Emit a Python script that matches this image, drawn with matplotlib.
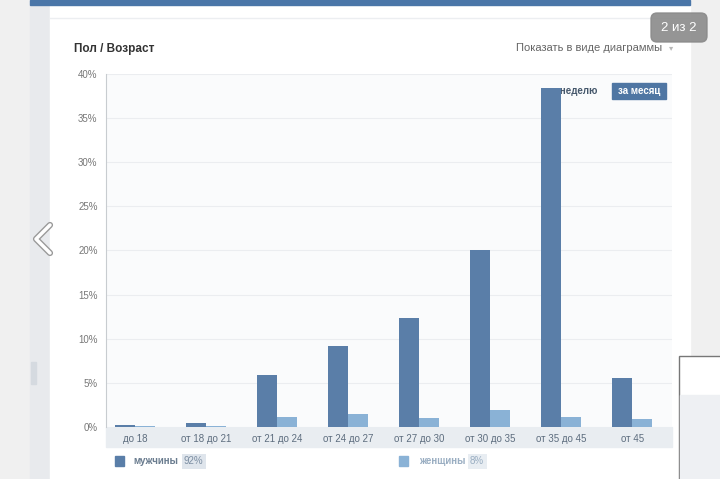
import numpy as np
import matplotlib.pyplot as plt
from matplotlib.patches import Rectangle, FancyBboxPatch
import matplotlib.patheffects as pe

# данные: доля аудитории по возрасту (%)
ages = ['до 18', 'от 18 до 21', 'от 21 до 24', 'от 24 до 27',
        'от 27 до 30', 'от 30 до 35', 'от 35 до 45', 'от 45']
men = [0.2, 0.45, 5.9, 9.2, 12.4, 20.0, 38.4, 5.6]
women = [0.1, 0.1, 1.1, 1.5, 1.0, 1.9, 1.1, 0.9]
yticks = [0, 5, 10, 15, 20, 25, 30, 35, 40]
men_total = '92%'
women_total = '8%'

MEN_C = '#5a7ea8'
WOMEN_C = '#8ab2d6'
W, H = 720, 479

plt.rcParams['font.family'] = ['Liberation Sans', 'DejaVu Sans']

fig = plt.figure(figsize=(W / 100, H / 100), dpi=100)
fig.patch.set_facecolor('#f0f0f0')

# фон страницы (пиксельные координаты)
bg = fig.add_axes([0, 0, 1, 1])
bg.set_xlim(0, W)
bg.set_ylim(H, 0)
bg.axis('off')
bg.add_patch(Rectangle((30, 0), 20, H, color='#e8eaed', zorder=0))
bg.add_patch(Rectangle((50, 0), 640, H, color='white', zorder=0))
bg.add_patch(Rectangle((30, 0), 660, 5, color='#4a76a8', zorder=1))
bg.plot([50, 690], [18, 18], color='#eceef1', lw=1)
bg.add_patch(Rectangle((31, 362), 5, 22, color='#d5dae0', zorder=1))
bg.add_patch(Rectangle((679, 356), 45, 130, facecolor='white', edgecolor='#777777', lw=1, zorder=1))
bg.add_patch(Rectangle((680, 395), 45, 90, color='#eef0f3', zorder=1))
bg.add_patch(FancyBboxPatch((651, 13), 56, 29, boxstyle='round,pad=0,rounding_size=6',
                            color='#8a8a8a', alpha=0.9, zorder=2))
bg.text(679, 28, '2 из 2', color='white', fontsize=9.5, ha='center', va='center', zorder=3)
bg.plot([50, 36, 50], [225, 239, 253], color='white', lw=2.5, solid_capstyle='round',
        path_effects=[pe.Stroke(linewidth=4.5, foreground='#9a9a9a'), pe.Normal()])
bg.text(74, 49, 'Пол / Возраст', fontsize=8.5, fontweight='bold', color='#333333', va='center')
bg.text(662, 48, 'Показать в виде диаграммы', fontsize=8, color='#656565', va='center', ha='right')
bg.text(671, 48, '▾', fontsize=6, color='#b8b8b8', va='center', ha='center',
        family='DejaVu Sans')
# полоса подписей под осью
bg.add_patch(Rectangle((106, 427), 566, 20, color='#e9edf1', zorder=1))

# легенда
bg.add_patch(Rectangle((115, 456), 9, 10, color=MEN_C))
bg.text(133, 461.5, 'мужчины', fontsize=7, fontweight='bold', color='#6a7c8f', va='center')
bg.text(184, 461.5, men_total, fontsize=7, color='#7d8fa3', va='center',
        bbox=dict(boxstyle='square,pad=0.25', fc='#dfe5ec', ec='none'))
bg.add_patch(Rectangle((399, 456), 9, 10, color=WOMEN_C))
bg.text(419, 461.5, 'женщины', fontsize=7, fontweight='bold', color='#9aaec2', va='center')
bg.text(470, 461.5, women_total, fontsize=7, color='#9aaec2', va='center',
        bbox=dict(boxstyle='square,pad=0.25', fc='#e8edf2', ec='none'))

# основной график
ax = fig.add_axes([106 / W, 1 - 427 / H, 566 / W, 353 / H])
ax.set_facecolor('#fafbfc')
x = np.arange(len(ages))
bw = 0.28
ax.bar(x - bw / 2, men, bw, color=MEN_C, zorder=3)
ax.bar(x + bw / 2, women, bw, color=WOMEN_C, zorder=3)
ax.set_xlim(-0.41, 7.56)
ax.set_ylim(0, 40)
ax.set_yticks(yticks)
ax.set_yticklabels([f'{v}%' for v in yticks])
ax.set_xticks(x)
ax.set_xticklabels(ages)
ax.tick_params(axis='y', length=0, pad=6, labelsize=7, labelcolor='#777777')
ax.tick_params(axis='x', length=0, pad=5, labelsize=7, labelcolor='#5d6d7e')
ax.grid(axis='y', color='#ebedf0', lw=0.8, zorder=0)
for s in ['top', 'right', 'bottom']:
    ax.spines[s].set_visible(False)
ax.spines['left'].set_color('#c8ccd0')

# переключатель периода
ax.text(0.8675, 0.952, 'за неделю', transform=ax.transAxes, fontsize=7,
        fontweight='bold', color='#45576b', ha='right', va='center', zorder=1)
ax.add_patch(Rectangle((0.894, 0.929), 0.095, 0.0455, transform=ax.transAxes,
                       color='#4f76a3', zorder=4))
ax.text(0.9415, 0.952, 'за месяц', transform=ax.transAxes, fontsize=7,
        fontweight='bold', color='white', ha='center', va='center', zorder=5)

fig.savefig('out.png', dpi=100)
